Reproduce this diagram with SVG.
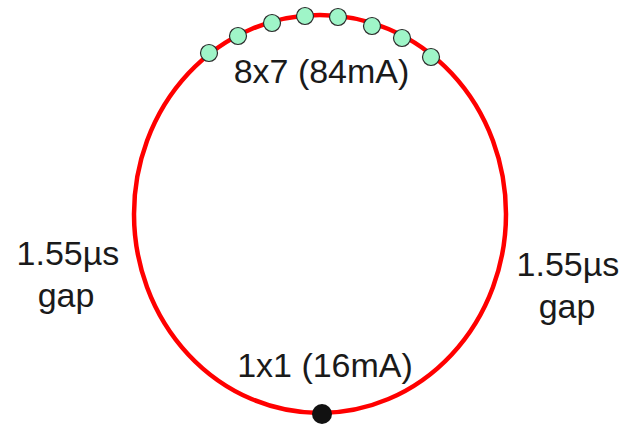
<svg xmlns="http://www.w3.org/2000/svg" width="624" height="425" viewBox="0 0 624 425">
<style>
.t{font-family:"Liberation Sans",Arial,sans-serif;font-size:34px;fill:#1a1a1a;text-anchor:middle}
.b{fill:#9ff5c8;stroke:#2a2a2a;stroke-width:1.2}
</style>
<rect width="624" height="425" fill="#fff"/>
<g id="ring">
<ellipse cx="320" cy="214" rx="186" ry="199" fill="none" stroke="#ff0000" stroke-width="4.5"/>
</g>
<g id="bunches-8x7">
<circle class="b" cx="209" cy="53" r="8.5"/>
<circle class="b" cx="238" cy="36" r="8.5"/>
<circle class="b" cx="272" cy="23" r="8.5"/>
<circle class="b" cx="305" cy="16" r="8.5"/>
<circle class="b" cx="338" cy="17" r="8.5"/>
<circle class="b" cx="372" cy="26" r="8.5"/>
<circle class="b" cx="402" cy="38" r="8.5"/>
<circle class="b" cx="431" cy="57" r="8.5"/>
<text class="t" x="321.5" y="83">8x7 (84mA)</text>
</g>
<g id="bunch-1x1">
<circle cx="322" cy="414" r="10" fill="#111"/>
<text class="t" x="325" y="377">1x1 (16mA)</text>
</g>
<g id="gap-left">
<text class="t" x="68" y="265">1.55µs</text>
<text class="t" x="66" y="307">gap</text>
</g>
<g id="gap-right">
<text class="t" x="568" y="276">1.55µs</text>
<text class="t" x="567" y="318">gap</text>
</g>
</svg>
